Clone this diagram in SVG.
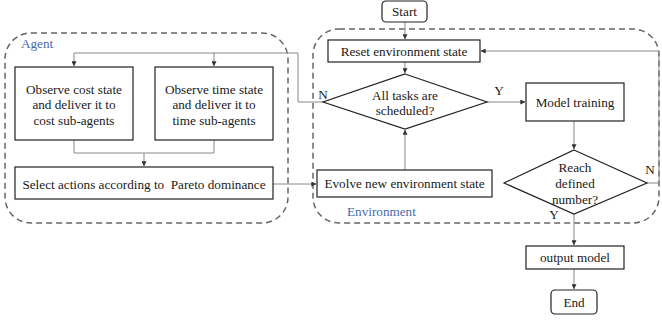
<svg xmlns="http://www.w3.org/2000/svg" width="662" height="323" viewBox="0 0 662 323" font-family="'Liberation Serif', 'Times New Roman', 'DejaVu Serif', serif">
<style>
text{font-family:'Liberation Serif','Times New Roman','DejaVu Serif',serif;font-size:13.2px;fill:#1a1a1a;text-anchor:middle;dominant-baseline:central}
.lbl{fill:#4a6aaa;text-anchor:start}
.box{fill:#fff;stroke:#222;stroke-width:1.2}
.dash{fill:none;stroke:#666;stroke-width:1.5;stroke-dasharray:6 4}
.con{fill:none;stroke:#888;stroke-width:1}
</style>
<defs>
<marker id="ah" viewBox="0 0 8 8" refX="7.5" refY="4" markerWidth="5" markerHeight="5" orient="auto" markerUnits="userSpaceOnUse">
<path d="M0,0 L8,4 L0,8 z" fill="#333"/>
</marker>
</defs>
<g id="agent-group">
<rect class="dash" x="5" y="33" width="283" height="190" rx="26"/>
<text class="lbl" x="21" y="43">Agent</text>
</g>
<g id="env-group">
<rect class="dash" x="313" y="29" width="346" height="194" rx="26"/>
<text class="lbl" x="347" y="211">Environment</text>
</g>
<g id="connectors">
<polyline class="con" points="323,102 298,102 298,53 74,53 74,66" marker-end="url(#ah)"/>
<polyline class="con" points="214,53 214,66" marker-end="url(#ah)"/>
<polyline class="con" points="74,140 74,153 214,153 214,140"/>
<polyline class="con" points="144,153 144,166" marker-end="url(#ah)"/>
<polyline class="con" points="273,184 316,184" marker-end="url(#ah)"/>
<polyline class="con" points="405,170 405,130" marker-end="url(#ah)"/>
<polyline class="con" points="405,22 405,39" marker-end="url(#ah)"/>
<polyline class="con" points="405,62 405,73" marker-end="url(#ah)"/>
<polyline class="con" points="487,102 525,102" marker-end="url(#ah)"/>
<polyline class="con" points="574,121 574,149" marker-end="url(#ah)"/>
<polyline class="con" points="647,183 659,183 659,51 481,51" marker-end="url(#ah)"/>
<polyline class="con" points="574,214 574,245" marker-end="url(#ah)"/>
<polyline class="con" points="574,269 574,289" marker-end="url(#ah)"/>
<text x="323" y="94">N</text>
<text x="499" y="90">Y</text>
<text x="650" y="169">N</text>
<text x="554" y="214">Y</text>
</g>
<g id="cost-box">
<rect class="box" x="15" y="67" width="118" height="73"/>
<text x="74" y="89">Observe cost state</text>
<text x="74" y="104.5">and deliver it to</text>
<text x="74" y="120">cost sub-agents</text>
</g>
<g id="time-box">
<rect class="box" x="155" y="67" width="118" height="73"/>
<text x="214" y="89">Observe time state</text>
<text x="214" y="104.5">and deliver it to</text>
<text x="214" y="120">time sub-agents</text>
</g>
<g id="select-box">
<rect class="box" x="15" y="167" width="258" height="32"/>
<text x="144" y="184" xml:space="preserve" style="white-space:pre">Select actions according to  Pareto dominance</text>
</g>
<g id="evolve-box">
<rect class="box" x="317" y="170" width="175" height="27"/>
<text x="404.5" y="183.5">Evolve new environment state</text>
</g>
<g id="start">
<rect class="box" x="382" y="1" width="45" height="21" rx="4"/>
<text x="404.5" y="11.5">Start</text>
</g>
<g id="reset-box">
<rect class="box" x="328" y="40" width="152" height="22"/>
<text x="404" y="51">Reset environment state</text>
</g>
<g id="all-tasks">
<polygon class="box" points="405,74 487,102 405,129 323,102"/>
<text x="405" y="95">All tasks are</text>
<text x="405" y="110">scheduled?</text>
</g>
<g id="model-training">
<rect class="box" x="526" y="83" width="98" height="38"/>
<text x="575" y="102">Model training</text>
</g>
<g id="reach">
<polygon class="box" points="574,150 647,183 574,214 504,183"/>
<text x="575" y="167">Reach</text>
<text x="575" y="183">defined</text>
<text x="575" y="199">number?</text>
</g>
<g id="output-model">
<rect class="box" x="526" y="246" width="98" height="23"/>
<text x="575" y="257.5">output model</text>
</g>
<g id="end">
<rect class="box" x="551" y="290" width="46" height="24" rx="4"/>
<text x="574" y="302">End</text>
</g>
</svg>
